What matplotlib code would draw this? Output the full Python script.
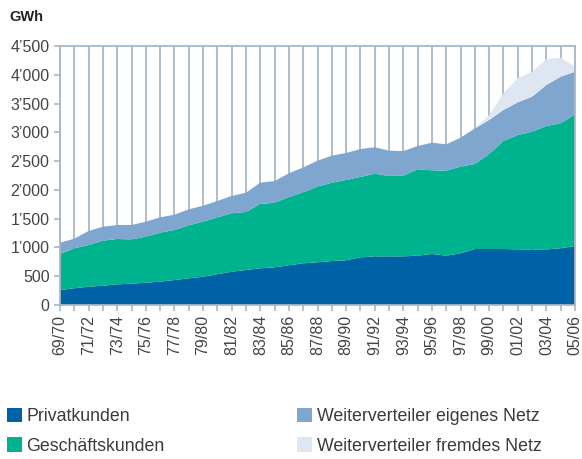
import numpy as np
import matplotlib
matplotlib.use('Agg')
import matplotlib.pyplot as plt
from matplotlib.patches import Patch
from matplotlib.ticker import FuncFormatter

plt.rcParams['font.family'] = ['Liberation Sans', 'DejaVu Sans']

# seasons 69/70 .. 05/06
years = ['%02d/%02d' % (y % 100, (y + 1) % 100) for y in range(1969, 2006)]

privat = [260, 290, 318, 335, 359, 370, 388, 405, 434, 463, 492, 533, 579, 608,
          637, 654, 690, 724, 741, 764, 776, 828, 845, 845, 845, 857, 886, 857,
          897, 973, 973, 973, 966, 966, 966, 985, 1025]
geschaeft = [626, 695, 724, 782, 788, 770, 799, 851, 869, 922, 955, 990, 1014, 1008,
             1118, 1123, 1185, 1236, 1315, 1361, 1396, 1396, 1437, 1396, 1402, 1500,
             1454, 1477, 1507, 1477, 1650, 1876, 1987, 2045, 2144, 2172, 2288]
eigenes = [196, 167, 244, 243, 243, 250, 260, 267, 266, 277, 278, 284, 301, 335,
           370, 377, 413, 430, 452, 469, 469, 486, 458, 440, 428, 405, 480, 457,
           503, 619, 591, 539, 568, 608, 712, 809, 740]
fremdes = [0] * 30 + [87, 290, 417, 434, 452, 331, 88]

labels = ['Privatkunden', 'Geschäftskunden',
          'Weiterverteiler eigenes Netz', 'Weiterverteiler fremdes Netz']
colors = ['#0062a6', '#00b38f', '#7fa6cf', '#dde6f1']

x = np.arange(len(years))
gridc = '#a7b7c3'
textc = '#444444'

fig = plt.figure(figsize=(5.82, 4.59), dpi=100)
ax = fig.add_axes([60 / 582, 1 - 305 / 459, 515 / 582, 259 / 459])

ax.stackplot(x, privat, geschaeft, eigenes, fremdes, colors=colors, linewidth=0)

ax.set_xlim(0, len(years) - 1)
ax.set_ylim(0, 4500)
ax.set_yticks(np.arange(0, 4501, 500))
ax.yaxis.set_major_formatter(FuncFormatter(
    lambda v, p: ('{:,}'.format(int(v))).replace(',', '\u2019')))
ax.set_xticks(x)
ax.set_xticklabels([y if i % 2 == 0 else '' for i, y in enumerate(years)],
                   rotation=90)
for xi in x:
    ax.axvline(xi, color=gridc, lw=1.3, zorder=0)

for s in ['left', 'right', 'top', 'bottom']:
    ax.spines[s].set_color(gridc)
    ax.spines[s].set_linewidth(1.3)
ax.tick_params(axis='both', colors=gridc, labelcolor=textc, labelsize=11.5,
               length=4, width=1.2)
ax.tick_params(axis='x', pad=3)

fig.text(9 / 582, 1 - 17 / 459, 'GWh', fontsize=10.5, fontweight='bold',
         color='#222222', va='center')

h = [Patch(facecolor=c, edgecolor='none') for c in colors]
kw = dict(frameon=False, fontsize=12.8, handlelength=0.85, handleheight=0.85,
          handletextpad=0.25, labelspacing=0.68, labelcolor='#3a3a3a',
          borderaxespad=0, borderpad=0)
fig.legend(h[:2], labels[:2], loc='upper left',
           bbox_to_anchor=(7 / 582, 1 - 408 / 459), **kw)
fig.legend(h[2:], labels[2:], loc='upper left',
           bbox_to_anchor=(297 / 582, 1 - 408 / 459), **kw)

fig.savefig('out.png', dpi=100)
